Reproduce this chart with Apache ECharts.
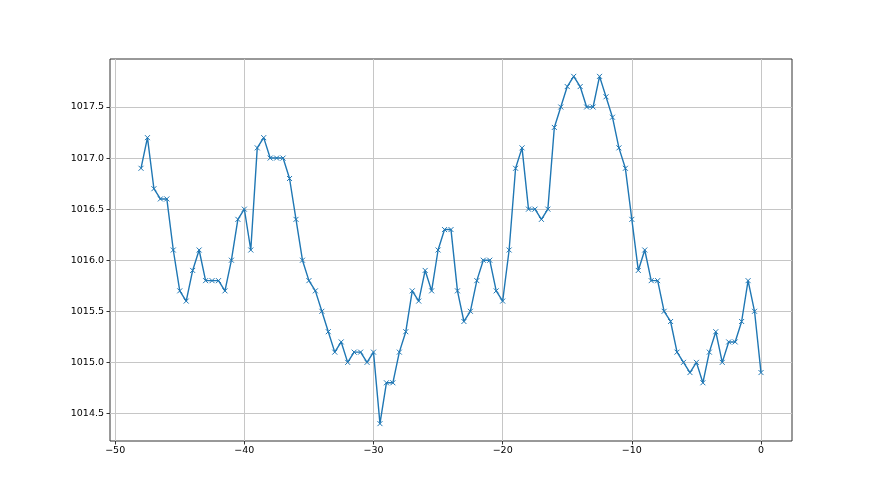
<!DOCTYPE html>
<html>
<head>
<meta charset="utf-8">
<script src="https://cdn.jsdelivr.net/npm/echarts@6/dist/echarts.min.js"></script>
<style>
  html, body { margin: 0; padding: 0; background: #fff; }
  #chart { width: 880px; height: 495px; }
</style>
</head>
<body>
<div id="chart"></div>
<script>
// hours relative to now, step 0.5
var hours = []
for (var h = -48; h <= 0; h += 0.5) hours.push(h)

var pressure = [
  1016.9, 1017.2, 1016.7, 1016.6, 1016.6, 1016.1, 1015.7, 1015.6, 1015.9, 1016.1,
  1015.8, 1015.8, 1015.8, 1015.7, 1016.0, 1016.4, 1016.5, 1016.1, 1017.1, 1017.2,
  1017.0, 1017.0, 1017.0, 1016.8, 1016.4, 1016.0, 1015.8, 1015.7, 1015.5, 1015.3,
  1015.1, 1015.2, 1015.0, 1015.1, 1015.1, 1015.0, 1015.1, 1014.4, 1014.8, 1014.8,
  1015.1, 1015.3, 1015.7, 1015.6, 1015.9, 1015.7, 1016.1, 1016.3, 1016.3, 1015.7,
  1015.4, 1015.5, 1015.8, 1016.0, 1016.0, 1015.7, 1015.6, 1016.1, 1016.9, 1017.1,
  1016.5, 1016.5, 1016.4, 1016.5, 1017.3, 1017.5, 1017.7, 1017.8, 1017.7, 1017.5,
  1017.5, 1017.8, 1017.6, 1017.4, 1017.1, 1016.9, 1016.4, 1015.9, 1016.1, 1015.8,
  1015.8, 1015.5, 1015.4, 1015.1, 1015.0, 1014.9, 1015.0, 1014.8, 1015.1, 1015.3,
  1015.0, 1015.2, 1015.2, 1015.4, 1015.8, 1015.5, 1014.9
]

var xTicks = [-50, -40, -30, -20, -10, 0]
var yTicks = [1014.5, 1015.0, 1015.5, 1016.0, 1016.5, 1017.0, 1017.5]

var points = hours.map(function (x, i) { return [x, pressure[i]] })

var chart = echarts.init(document.getElementById('chart'))
chart.setOption({
  animation: false,
  textStyle: { fontFamily: 'DejaVu Sans' },
  grid: {
    left: 110, right: 88, top: 59, bottom: 54,
    show: true, borderColor: '#333', borderWidth: 1
  },
  xAxis: {
    type: 'value',
    min: -50.4,
    max: 2.4,
    axisLine: { show: false, onZero: false },
    axisTick: { show: true, length: 3.5, lineStyle: { color: '#333' }, customValues: xTicks },
    axisLabel: {
      customValues: xTicks, color: '#000', fontSize: 9.5, margin: 5,
      formatter: function (v) { return String(v).replace('-', '\u2212') }
    },
    splitLine: { show: true, lineStyle: { color: '#c6c6c6', width: 1 } }
  },
  yAxis: {
    type: 'value',
    min: 1014.23,
    max: 1017.97,
    axisLine: { show: false, onZero: false },
    axisTick: { show: true, length: 3.5, lineStyle: { color: '#333' }, customValues: yTicks },
    axisLabel: {
      customValues: yTicks, color: '#000', fontSize: 9.5, margin: 6,
      formatter: function (v) { return v.toFixed(1) }
    },
    splitLine: { show: true, lineStyle: { color: '#c6c6c6', width: 1 } }
  },
  series: [{
    type: 'line',
    data: points,
    symbol: 'path://M0,0L10,10M10,0L0,10',
    symbolSize: 5,
    showAllSymbol: true,
    lineStyle: { color: '#1f77b4', width: 1.4 },
    itemStyle: { color: '#1f77b4', borderColor: '#1f77b4', borderWidth: 1 }
  }]
})
</script>
</body>
</html>
